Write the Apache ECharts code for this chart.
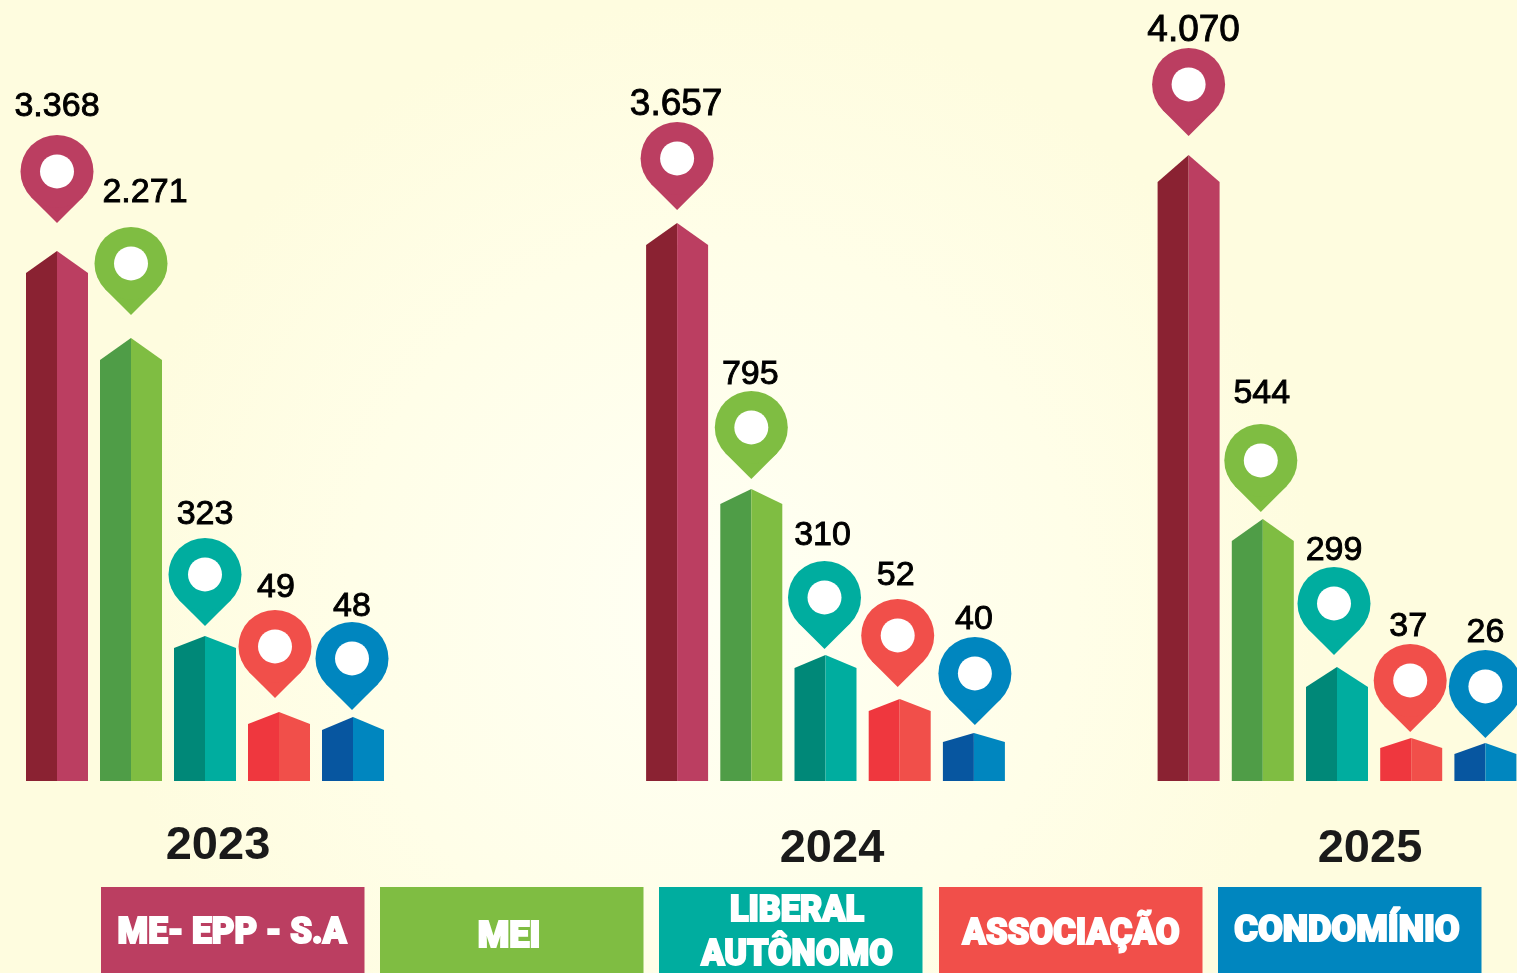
<!DOCTYPE html>
<html><head><meta charset="utf-8">
<style>html,body{margin:0;padding:0;background:#fffde6}#c{width:1517px;height:973px}</style>
<script src="https://cdn.jsdelivr.net/npm/echarts@6/dist/echarts.min.js"></script>
</head><body><div id="c"></div>
<script>
// Data
const years = ['2023', '2024', '2025'];
const categories = ['ME- EPP - S.A', 'MEI', 'LIBERAL\nAUTÔNOMO', 'ASSOCIAÇÃO', 'CONDOMÍNIO'];
const values2023 = [3368, 2271, 323, 49, 48];
const values2024 = [3657, 795, 310, 52, 40];
const values2025 = [4070, 544, 299, 37, 26];
// The drawn bars are not to scale with the printed values: level of each bar's peak as pictured
const barLevels2023 = [530, 443, 145, 69, 64];
const barLevels2024 = [558, 292, 126, 82, 48];
const barLevels2025 = [626, 262, 114, 43, 38];
const shoulderDrop2023 = [22, 22, 12, 12, 13];
const shoulderDrop2024 = [22, 15, 13, 12, 9];
const shoulderDrop2025 = [27, 22, 20, 10, 11];
const pinLevels2023 = [558, 466, 155, 83, 71];
const pinLevels2024 = [571, 302, 132, 94, 56];
const pinLevels2025 = [645, 269, 126, 49, 43];
const labelLevels2023 = [676, 590, 268, 195, 176];
const labelLevels2024 = [678, 408, 247, 207, 163];
const labelLevels2025 = [752, 389, 232, 156, 150];

// Layout and style
const darkColors = ['#8a2232', '#4f9d47', '#008878', '#ef373e', '#0756a0'];
const lightColors = ['#bb3e61', '#7fbd42', '#00ad9f', '#f14f4a', '#0086bf'];
const pinShift = [[0, 0, 0, -4, -1], [0, 0, -1, -2, 1], [0, -2, -3, -1, 0]];
const labelShift = [[0, 14, 0, -3, -1], [-1, -1, -3, -4, 0], [5, -1, -3, -3, 0]];
const labelSize = [[34, 34, 34, 34, 34], [37, 34, 34, 34, 34], [37, 34, 34, 34, 34]];
const gridLefts = [20, 640, 1151.5];
const gridWidths = [370, 371, 371];
const yearPos = [[218, 846], [832, 849], [1370, 849]];
const boxLefts = [101, 380, 659, 939, 1218];
const textPos = [[232, 934], [509, 938], [797, 934], [1071, 935], [1347, 932]];
const textScale = [0.97, 1.0, 0.95, 0.96, 1.0];
const PLOT_BASE = 781, PIN_R = 36.5, HOLE_R = 17, LABEL_NUDGE = 1.5;

const allValues = [values2023, values2024, values2025];
const allBars = [barLevels2023, barLevels2024, barLevels2025];
const allDrops = [shoulderDrop2023, shoulderDrop2024, shoulderDrop2025];
const allPins = [pinLevels2023, pinLevels2024, pinLevels2025];
const allLabels = [labelLevels2023, labelLevels2024, labelLevels2025];

const fmt = v => String(v).replace(/\B(?=(\d{3})+$)/g, '.');

function makeRender(y) {
  return function (params, api) {
    const i = params.dataIndex;
    const base = api.coord([i, 0]);
    const top = api.coord([i, allBars[y][i]]);
    const sh = api.coord([i, allBars[y][i] - allDrops[y][i]]);
    const half = 31;
    const cx = base[0];
    const tip = api.coord([i, allPins[y][i]]);
    const px = cx + pinShift[y][i];
    const py = tip[1] - PIN_R * Math.SQRT2;
    const d = PIN_R * Math.SQRT1_2;
    const lab = api.coord([i, allLabels[y][i]]);
    return {
      type: 'group',
      children: [
        { type: 'polygon', shape: { points: [[cx - half, base[1]], [cx - half, sh[1]], [cx, top[1]], [cx, base[1]]] }, style: { fill: darkColors[i] } },
        { type: 'polygon', shape: { points: [[cx, base[1]], [cx, top[1]], [cx + half, sh[1]], [cx + half, base[1]]] }, style: { fill: lightColors[i] } },
        { type: 'polygon', shape: { points: [[px - d, py + d], [px, tip[1]], [px + d, py + d]] }, style: { fill: lightColors[i] } },
        { type: 'circle', shape: { cx: px, cy: py, r: PIN_R }, style: { fill: lightColors[i] } },
        { type: 'circle', shape: { cx: px, cy: py, r: HOLE_R }, style: { fill: '#ffffff' } },
        { type: 'text', style: { text: fmt(allValues[y][i]), x: cx + labelShift[y][i], y: lab[1] + LABEL_NUDGE, textAlign: 'center', textVerticalAlign: 'middle', fill: '#000', stroke: '#000', lineWidth: 0.9, font: labelSize[y][i] + 'px "Liberation Sans", Arial, sans-serif' } }
      ]
    };
  };
}

const option = {
  animation: false,
  backgroundColor: {
    type: 'radial', x: 0.47, y: 0.62, r: 0.62,
    colorStops: [{ offset: 0, color: '#fffff4' }, { offset: 0.6, color: '#fffee8' }, { offset: 1, color: '#fefcdf' }]
  },
  tooltip: { show: false },
  grid: years.map((_, y) => ({ left: gridLefts[y], width: gridWidths[y], top: 0, height: PLOT_BASE, outerBoundsMode: 'none' })),
  xAxis: years.map((_, y) => ({ type: 'category', gridIndex: y, data: categories, show: false })),
  yAxis: years.map((_, y) => ({ type: 'value', gridIndex: y, min: 0, max: PLOT_BASE, show: false })),
  series: years.map((yr, y) => ({
    type: 'custom', name: yr, xAxisIndex: y, yAxisIndex: y, clip: false,
    encode: { x: 0, y: 1 },
    data: allBars[y].map((h, i) => [i, h]),
    renderItem: makeRender(y)
  })),
  graphic: [
    ...years.map((yr, y) => ({
      type: 'text', x: yearPos[y][0], y: yearPos[y][1],
      style: { text: yr, textAlign: 'center', textVerticalAlign: 'middle', fill: '#1a1a1a', font: 'bold 47px "Liberation Sans", Arial, sans-serif' }
    })),
    ...categories.map((c, i) => ({
      type: 'rect', shape: { x: boxLefts[i], y: 887, width: 263.5, height: 86 }, style: { fill: lightColors[i] }
    })),
    ...categories.map((c, i) => ({
      type: 'text', x: textPos[i][0], y: textPos[i][1], scaleX: textScale[i],
      style: { text: c, textAlign: 'center', textVerticalAlign: 'middle', fill: '#fff', stroke: '#fff', lineWidth: 2, lineHeight: 44, font: '900 36px Roboto, sans-serif' }
    }))
  ]
};
echarts.init(document.getElementById('c')).setOption(option);
</script></body></html>
